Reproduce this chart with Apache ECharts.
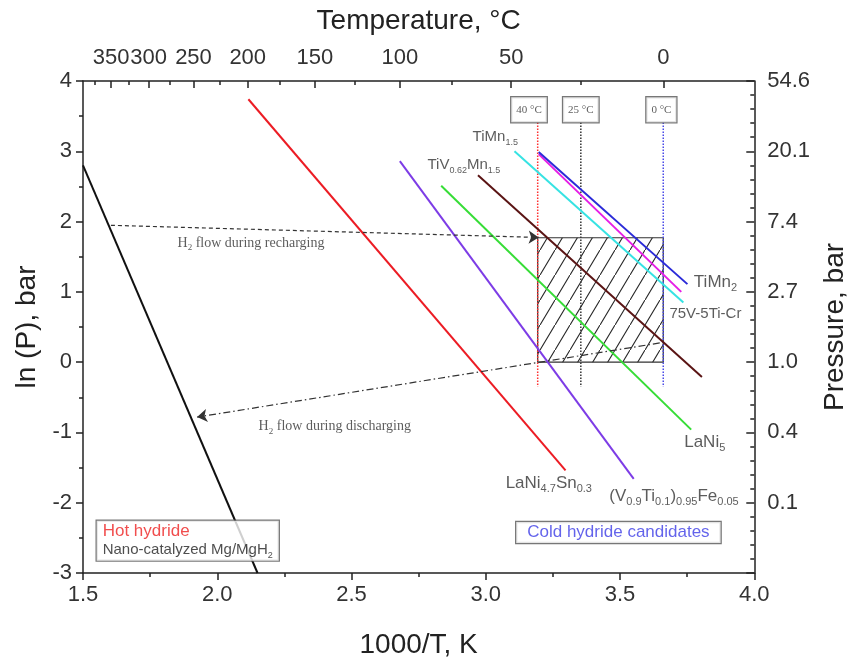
<!DOCTYPE html>
<html><head><meta charset="utf-8">
<script src="https://cdn.jsdelivr.net/npm/echarts@6/dist/echarts.min.js"></script>
<style>html,body{margin:0;padding:0;background:#fff}#c{width:857px;height:664px}</style>
</head><body><div id="c"></div>
<script>
// ---------- data (1000/T in K^-1, ln P in bar) ----------
const mgX = [1.5, 2.15],      mgY = [2.80, -3.0];
const laSnX = [2.116, 3.297], laSnY = [3.74, -1.54];
const vTiFeX = [2.680, 3.551], vTiFeY = [2.86, -1.66];
const laNi5X = [2.834, 3.765], laNi5Y = [2.51, -0.96];
const tiVMnX = [2.971, 3.805], tiVMnY = [2.66, -0.21];
const tiMn15X = [3.107, 3.736], tiMn15Y = [3.00, 0.85];
const vTiCrX = [3.197, 3.728], vTiCrY = [2.96, 1.00];
const tiMn2X = [3.197, 3.751], tiMn2Y = [2.99, 1.11];

const topTickTemps = [350, 300, 250, 200, 150, 100, 50, 0];
const topMinorTemps = [375, 325, 275, 225, 175, 125, 75, 25];
const pressureLabels = ['0.1', '0.4', '1.0', '2.7', '7.4', '20.1', '54.6']; // ln P = -2 .. 4
const xTickLabels = ['1.5', '2.0', '2.5', '3.0', '3.5', '4.0'];

const refTemps = [40, 25, 0];
const refLabels = ['40 °C', '25 °C', '0 °C'];
const refLineY = [3.41, -0.35];
const refBoxX = [3.161, 3.354, 3.654];
const refBoxY = 3.59;

const hatchTemps = [40, 0];
const hatchY = [0, 1.77];

const rechargeX = [1.604, 3.197], rechargeY = [1.947, 1.774];
const dischargeX = [3.648, 1.925], dischargeY = [0.273, -0.782];

const annoText = ['TiMn{s|1.5}', 'TiV{s|0.62}Mn{s|1.5}', 'TiMn{s|2}', '75V-5Ti-Cr', 'LaNi{s|5}', 'LaNi{s|4.7}Sn{s|0.3}', '(V{s|0.9}Ti{s|0.1}){s|0.95}Fe{s|0.05}'];
const annoX = [2.951, 2.783, 3.775, 3.684, 3.739, 3.074, 3.460];
const annoY = [3.207, 2.806, 1.132, 0.692, -1.145, -1.726, -1.912];
const annoSize = [15, 15, 17, 15, 17, 17, 17];

const flowText = ['H{s|2} flow during recharging', 'H{s|2} flow during discharging'];
const flowX = [1.852, 2.154], flowY = [1.69, -0.92];

const coldBox = { text: 'Cold hydride candidates', x: 3.494, y: -2.424 };
const hotBox = { x: 1.551, y: -2.54 };

// ---------- helpers ----------
const SANS = "'Liberation Sans', Arial, sans-serif";
const SERIF = "'Liberation Serif', 'Times New Roman', serif";
const toInvT = t => 1000 / (t + 273.15);
const pts = (xs, ys) => xs.map((x, i) => [x, ys[i]]);
const AX = '#222';

function hatchPattern() {
  const c = document.createElement('canvas');
  const w = 15, h = 25;
  c.width = w; c.height = h;
  const g = c.getContext('2d');
  g.strokeStyle = '#222'; g.lineWidth = 1.1;
  g.beginPath(); g.moveTo(-w, 2 * h); g.lineTo(2 * w, -h); g.stroke();
  return { image: c, repeat: 'repeat' };
}

function lineSeries(name, xs, ys, color) {
  return { name, type: 'line', data: pts(xs, ys), showSymbol: false, symbol: 'none', z: 4,
    lineStyle: { color, width: 2 }, silent: true };
}

function subRich(size, family, color) {
  const s = Math.round(size * 0.62);
  return { s: { fontSize: s, lineHeight: s, verticalAlign: 'bottom', fontFamily: family, color } };
}

const chart = echarts.init(document.getElementById('c'), null, { renderer: 'canvas' });

const series = [];
series.push({
  type: 'custom', z: 1, silent: true,
  data: [[toInvT(hatchTemps[0]), toInvT(hatchTemps[1]), hatchY[0], hatchY[1]]],
  renderItem: (params, api) => {
    const p1 = api.coord([api.value(0), api.value(3)]);
    const p2 = api.coord([api.value(1), api.value(2)]);
    return { type: 'rect', shape: { x: p1[0], y: p1[1], width: p2[0] - p1[0], height: p2[1] - p1[1] },
      style: { fill: hatchPattern(), stroke: '#333', lineWidth: 1.2 } };
  }
});
const refColors = ['#ff3030', '#333333', '#4a4ae8'];
refTemps.forEach((t, i) => {
  series.push({ type: 'line', data: [[toInvT(t), refLineY[0]], [toInvT(t), refLineY[1]]], showSymbol: false, symbol: 'none', z: 3,
    lineStyle: { color: refColors[i], width: 1.5, type: 'dotted' }, silent: true });
});
series.push(lineSeries('Mg/MgH2', mgX, mgY, '#111111'));
series.push(lineSeries('LaNi4.7Sn0.3', laSnX, laSnY, '#ec1c24'));
series.push(lineSeries('(V0.9Ti0.1)0.95Fe0.05', vTiFeX, vTiFeY, '#7d3ce6'));
series.push(lineSeries('LaNi5', laNi5X, laNi5Y, '#36dd36'));
series.push(lineSeries('TiV0.62Mn1.5', tiVMnX, tiVMnY, '#5a1414'));
series.push(lineSeries('TiMn1.5', tiMn15X, tiMn15Y, '#36e3e3'));
series.push(lineSeries('75V-5Ti-Cr', vTiCrX, vTiCrY, '#e61ee6'));
series.push(lineSeries('TiMn2', tiMn2X, tiMn2Y, '#2a2ad8'));

function arrow(xs, ys, dash) {
  return { type: 'line', data: pts(xs, ys), showSymbol: false, symbol: 'none', z: 5, silent: true,
    lineStyle: { opacity: 0 },
    markLine: { silent: true, symbol: ['none', 'arrow'], symbolSize: 10, animation: false,
      label: { show: false },
      lineStyle: { color: '#333', width: 1.2, type: dash },
      data: [[{ coord: [xs[0], ys[0]] }, { coord: [xs[1], ys[1]] }]] } };
}
series.push(arrow(rechargeX, rechargeY, [4, 3]));
series.push(arrow(dischargeX, dischargeY, [7, 3, 1.5, 3]));

const annoData = annoText.map((t, i) => ({ value: [annoX[i], annoY[i]],
  label: { show: true, position: 'right', distance: 0, formatter: t, color: '#333', fontFamily: SANS,
    fontSize: annoSize[i], lineHeight: annoSize[i] + 5, rich: subRich(annoSize[i], SANS, '#333') } }));
flowText.forEach((t, i) => annoData.push({ value: [flowX[i], flowY[i]],
  label: { show: true, position: 'right', distance: 0, formatter: t, color: '#333', fontFamily: SERIF,
    fontSize: 14, lineHeight: 18, rich: subRich(14, SERIF, '#333') } }));
refLabels.forEach((t, i) => annoData.push({ value: [refBoxX[i], refBoxY],
  label: { show: true, position: 'inside', formatter: t, color: '#333', fontFamily: SERIF, fontSize: 11,
    backgroundColor: '#fff', borderColor: '#555', borderWidth: 1.2, padding: [7, 5] } }));
annoData.push({ value: [coldBox.x, coldBox.y],
  label: { show: true, position: 'inside', formatter: coldBox.text, color: '#3c3ce6', fontFamily: SANS, fontSize: 17,
    backgroundColor: '#fff', borderColor: '#555', borderWidth: 1.2, padding: [2, 11] } });
annoData.push({ value: [hotBox.x, hotBox.y],
  label: { show: true, position: 'right', distance: 0,
    formatter: '{r|Hot hydride}\n{k|Nano-catalyzed Mg/MgH}{s|2}',
    backgroundColor: '#fff', borderColor: '#555', borderWidth: 1.2, padding: [1, 6],
    rich: { r: { color: '#ee2222', fontSize: 17, lineHeight: 19, fontFamily: SANS },
            k: { color: '#222', fontSize: 15, lineHeight: 19, fontFamily: SANS },
            s: { color: '#222', fontSize: 9, lineHeight: 9, verticalAlign: 'bottom', fontFamily: SANS } } } });
series.push({ type: 'scatter', data: annoData, symbolSize: 0, z: 10, silent: true });

const tickStyle = { color: AX, width: 1.5 };
chart.setOption({
  animation: false,
  backgroundColor: '#fff',
  textStyle: { fontFamily: SANS },
  grid: { left: 83, right: 84, top: 81, bottom: 80 },
  xAxis: [
    { type: 'value', position: 'bottom', min: 1.5, max: 4, interval: 0.5,
      axisLine: { onZero: false, lineStyle: { color: AX, width: 1.5 } },
      axisTick: { inside: false, length: 7, lineStyle: tickStyle },
      minorTick: { show: true, splitNumber: 2, length: 4, lineStyle: tickStyle },
      splitLine: { show: false },
      axisLabel: { fontSize: 22, color: '#333', margin: 11, formatter: v => xTickLabels[Math.round((v - 1.5) / 0.5)] },
      name: '1000/T, K', nameLocation: 'middle', nameGap: 58, nameTextStyle: { fontSize: 28, color: '#222' } },
    { type: 'value', position: 'top', min: 1.5, max: 4,
      axisLine: { onZero: false, lineStyle: { color: AX, width: 1.5 } },
      axisTick: { show: true, inside: true, length: 7, lineStyle: tickStyle, customValues: topTickTemps.map(toInvT) },
      splitLine: { show: false },
      axisLabel: { fontSize: 22, color: '#333', margin: 12, customValues: topTickTemps.map(toInvT),
        formatter: v => String(topTickTemps.reduce((b, t) => Math.abs(toInvT(t) - v) < Math.abs(toInvT(b) - v) ? t : b)) },
      name: 'Temperature, °C', nameLocation: 'middle', nameGap: 46, nameTextStyle: { fontSize: 28, color: '#222' } },
    { type: 'value', position: 'top', min: 1.5, max: 4, offset: 0,
      axisLine: { show: false, onZero: false },
      axisTick: { show: true, inside: true, length: 4, lineStyle: tickStyle, customValues: topMinorTemps.map(toInvT) },
      axisLabel: { show: false }, splitLine: { show: false } }
  ],
  yAxis: [
    { type: 'value', position: 'left', min: -3, max: 4, interval: 1,
      axisLine: { show: true, onZero: false, lineStyle: { color: AX, width: 1.5 } },
      axisTick: { show: true, inside: false, length: 7, lineStyle: tickStyle },
      minorTick: { show: true, splitNumber: 2, length: 4, lineStyle: tickStyle },
      splitLine: { show: false },
      axisLabel: { fontSize: 22, color: '#333', margin: 11 },
      name: 'ln (P), bar', nameLocation: 'middle', nameGap: 42, nameTextStyle: { fontSize: 28, color: '#222' } },
    { type: 'value', position: 'right', min: -3, max: 4, interval: 1,
      axisLine: { show: true, onZero: false, lineStyle: { color: AX, width: 1.5 } },
      axisTick: { show: true, inside: true, length: 8, lineStyle: tickStyle },
      minorTick: { show: true, splitNumber: 5, length: 4, lineStyle: tickStyle },
      splitLine: { show: false },
      axisLabel: { fontSize: 22, color: '#333', margin: 13,
        formatter: v => (v >= -2 ? pressureLabels[Math.round(v) + 2] : '') },
      name: 'Pressure, bar', nameLocation: 'middle', nameGap: 55, nameTextStyle: { fontSize: 28, color: '#222' } }
  ],
  series
});
</script></body></html>
